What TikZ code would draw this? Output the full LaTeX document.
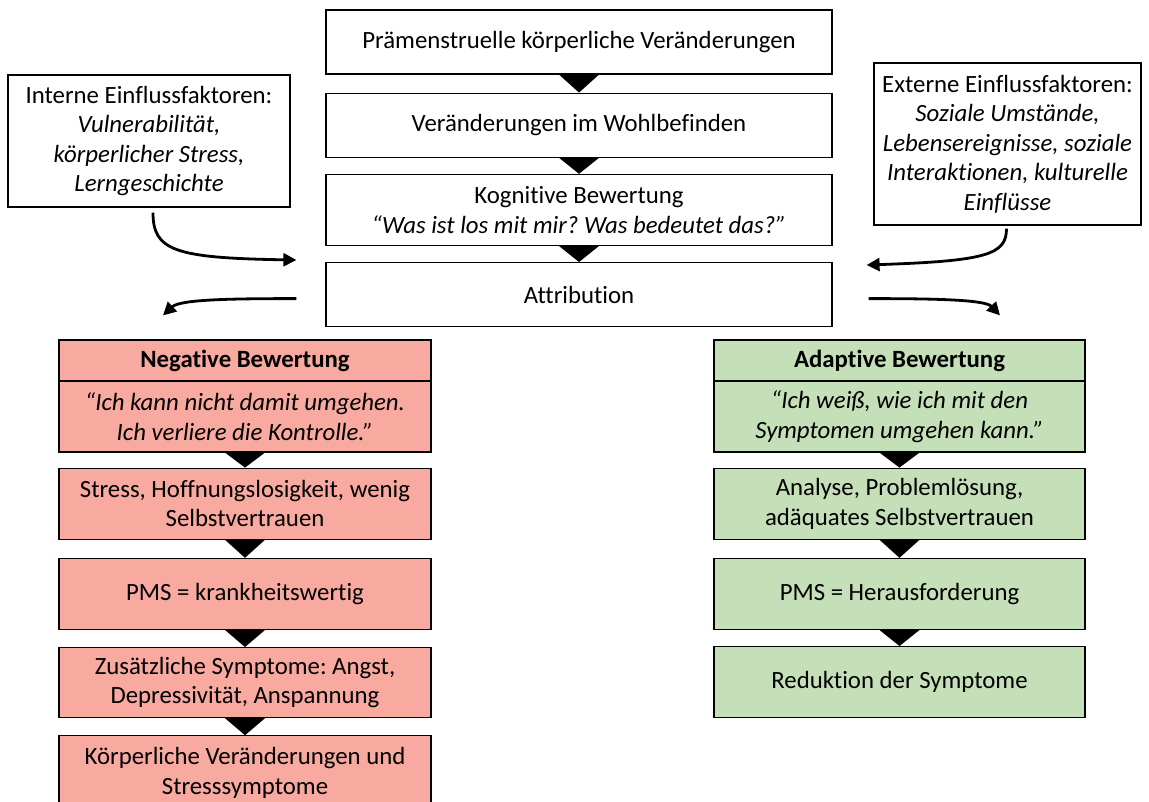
\documentclass[tikz,border=0pt]{standalone}
\usepackage{fontspec}
\setmainfont{Carlito}[Ligatures=NoCommon]
\usetikzlibrary{positioning,calc,arrows.meta}

\definecolor{negred}{HTML}{F8A9A0}
\definecolor{posgreen}{HTML}{C5DFB9}

\begin{document}
\frenchspacing
\begin{tikzpicture}[
    x=1pt, y=-1pt,
    node distance=16pt,
    flowbox/.style={
        rectangle, draw=black, line width=1.2pt, fill=white,
        minimum width=506pt, minimum height=64pt,
        align=center, inner sep=2pt,
        font=\fontsize{24.8}{29.5}\selectfont
    },
    factor/.style={flowbox, minimum width=282pt, minimum height=132pt},
    negbox/.style={flowbox, fill=negred, minimum width=372pt, minimum height=71pt},
    posbox/.style={flowbox, fill=posgreen, minimum width=371pt, minimum height=71pt},
    headbox/.style={minimum height=41pt},
    curve/.style={line width=2.8pt, -{Triangle[length=13pt,width=13pt]}}
]

\useasboundingbox (0,0) rectangle (1149,801);

%% Middle column (top to bottom)
\node[flowbox] (pre) at (579,42) {Prämenstruelle körperliche Veränderungen};
\node[flowbox, below=18pt of pre] (wohl) {Veränderungen im Wohlbefinden};
\node[flowbox, minimum height=71pt, below=of wohl]
    (kog) {Kognitive Bewertung\\
           \textit{“Was ist los mit mir? Was bedeutet das?”}};
\node[flowbox, below=of kog] (att) {Attribution};

%% Influence factors
\node[factor] (intern) at (149,141)
    {Interne Einflussfaktoren:\\
     \textit{Vulnerabilität,}\\
     \textit{körperlicher Stress,}\\
     \textit{Lerngeschichte}};
\node[factor, minimum width=267pt, minimum height=162pt] (extern) at (1007.5,144)
    {Externe Einflussfaktoren:\\
     \textit{Soziale Umstände,}\\
     \textit{Lebensereignisse, soziale}\\
     \textit{Interaktionen, kulturelle}\\
     \textit{Einflüsse}};

%% Left column: negative appraisal
\node[negbox, headbox] (negh) at (245,360.5) {\textbf{Negative Bewertung}};
\node[negbox, below=-1.2pt of negh]
    (negq) {\textit{“Ich kann nicht damit umgehen.}\\
            \textit{Ich verliere die Kontrolle.”}};
\node[negbox, below=15pt of negq]
    (negs) {Stress, Hoffnungslosigkeit, wenig\\Selbstvertrauen};
\node[negbox, below=18pt of negs] (negp) {PMS = krankheitswertig};
\node[negbox, minimum height=70pt, below=17pt of negp]
    (negz) {Zusätzliche Symptome: Angst,\\Depressivität, Anspannung};
\node[negbox, minimum height=74pt, below=17pt of negz]
    (negk) {Körperliche Veränderungen und\\Stresssymptome};

%% Right column: adaptive appraisal
\node[posbox, headbox] (posh) at (899.5,360.5) {\textbf{Adaptive Bewertung}};
\node[posbox, below=-1.2pt of posh]
    (posq) {\textit{“Ich weiß, wie ich mit den}\\
            \textit{Symptomen umgehen kann.”}};
\node[posbox, below=15pt of posq]
    (poss) {Analyse, Problemlösung,\\adäquates Selbstvertrauen};
\node[posbox, below=18pt of poss] (posp) {PMS = Herausforderung};
\node[posbox, below=16pt of posp] (posr) {Reduktion der Symptome};

%% Triangles between boxes
\foreach \a/\b in {pre/wohl, wohl/kog, kog/att,
                   negq/negs, negs/negp, negp/negz, negz/negk,
                   posq/poss, poss/posp, posp/posr}
    \fill ($(\a.south)+(-20,0)$) -- ($(\a.south)+(20,0)$) -- (\b.north) -- cycle;

%% Curved arrows
\draw[curve] ($(intern.south)+(4,5)$) .. controls +(0,38) and +(-122,-2)
    .. ($(att.north west)+(-29,-2)$);
\draw[curve] ($(extern.south)+(-1,3)$) .. controls +(0,26) and +(120,-4)
    .. ($(att.north east)+(34,3)$);
\draw[curve] ($(att.west)+(-29,4)$) .. controls +(-67,0) and +(17,-16)
    .. ($(negh.north)+(-82,-24)$);
\draw[curve] ($(att.east)+(36,4)$) .. controls +(62,0) and +(-15,-16)
    .. ($(posh.north)+(100.5,-24)$);

\end{tikzpicture}
\end{document}
